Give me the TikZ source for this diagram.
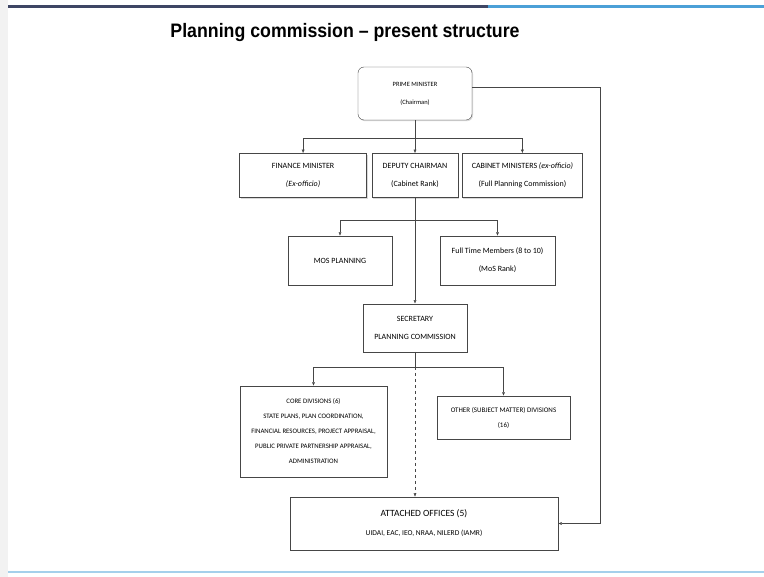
\documentclass[tikz,border=0pt]{standalone}
\usepackage{fontspec}
\setmainfont{Carlito}
\newfontfamily\titlefont{Liberation Sans}
\usetikzlibrary{arrows.meta, positioning, calc, shadows}
\definecolor{linegray}{RGB}{70, 70, 70}
\definecolor{barslate}{RGB}{62, 70, 100}
\definecolor{barblue}{RGB}{75, 160, 215}
\definecolor{lineblue}{RGB}{165, 208, 235}
\tikzset{
    box/.style = {rectangle, draw=linegray, fill=white, thin, align=center, inner sep=2pt, font=\fontsize{8}{18}\selectfont, drop shadow={shadow xshift=1pt, shadow yshift=-1.2pt, opacity=0.3}},
    roundbox/.style = {box, rounded corners=6pt, font=\fontsize{6.5}{18}\selectfont},
    smallbox/.style = {box, font=\fontsize{6.8}{15}\selectfont},
    arrow/.style = {draw=linegray, thin, -{Latex[length=3.5pt, width=3pt]}},
    line/.style = {draw=linegray, thin, -}
}

\begin{document}
\begin{tikzpicture}[x=1pt, y=-1pt, node distance=33pt and 5pt]
\useasboundingbox (0,0) rectangle (764,577);
% slide frame
\fill[gray!10] (0,0) rectangle (8,577);
\fill[barslate] (8,5) rectangle (488,8);
\fill[barblue] (488,5) rectangle (764,8);
\fill[lineblue] (8,571) rectangle (764,573);

\node (T) at (345,33) {\titlefont\bfseries\fontsize{19.5}{22}\selectfont\scalebox{0.91}[1]{Planning commission – present structure}};

\node (PM) [roundbox, minimum width=114pt, minimum height=53pt] at (415,93.5) {PRIME MINISTER\\(Chairman)};
\node (DC) [box, below=of PM, minimum width=86pt, minimum height=44pt] {DEPUTY CHAIRMAN\\(Cabinet Rank)};
\node (FM) [box, left=of DC, minimum width=127pt, minimum height=44pt] {FINANCE MINISTER\\\emph{(Ex-officio)}};
\node (CM) [box, right=4pt of DC, minimum width=120pt, minimum height=44pt] {CABINET MINISTERS \emph{(ex-officio)}\\(Full Planning Commission)};
\node (MOS) [box, minimum width=104pt, minimum height=49pt] at (340,260.5) {MOS PLANNING};
\node (FTM) [box, minimum width=115pt, minimum height=49pt] at (497.5,260.5) {Full Time Members (8 to 10)\\(MoS Rank)};
\node (SEC) [box, below=106pt of DC, minimum width=104pt, minimum height=48pt] {SECRETARY\\PLANNING COMMISSION};
\node (CORE) [smallbox, minimum width=147pt, minimum height=91pt] at (313.5,431.5) {CORE DIVISIONS (6)\\STATE PLANS, PLAN COORDINATION,\\FINANCIAL RESOURCES, PROJECT APPRAISAL,\\PUBLIC PRIVATE PARTNERSHIP APPRAISAL,\\ADMINISTRATION};
\node (OTH) [smallbox, minimum width=133pt, minimum height=43pt, font=\fontsize{7}{15}\selectfont] at (503.5,417.5) {OTHER (SUBJECT MATTER) DIVISIONS\\(16)};
\node (ATT) [box, minimum width=268pt, minimum height=53pt, font=\fontsize{7.5}{19}\selectfont] at (424,523.5) {{\fontsize{9.5}{19}\selectfont ATTACHED OFFICES (5)}\\UIDAI, EAC, IEO, NRAA, NILERD (IAMR)};

\coordinate (B1) at (415,138);
\coordinate (B2) at (415,220);
\coordinate (B3) at (415,367);
\coordinate (R) at (600,87.5);

\draw [arrow] (PM) -- (DC);
\draw [arrow] (B1) -| (FM);
\draw [arrow] (B1) -| (CM);
\draw [arrow] (DC) -- (SEC);
\draw [arrow] (B2) -| (MOS);
\draw [arrow] (B2) -| (FTM);
\draw [line] (SEC) -- (B3);
\draw [arrow] (B3) -| (CORE);
\draw [arrow] (B3) -| (OTH);
\draw [arrow, dashed] (B3) -- (B3 |- ATT.north);
\draw [arrow] ([yshift=6pt]PM.east) -- (R) |- (ATT);
\end{tikzpicture}
\end{document}
